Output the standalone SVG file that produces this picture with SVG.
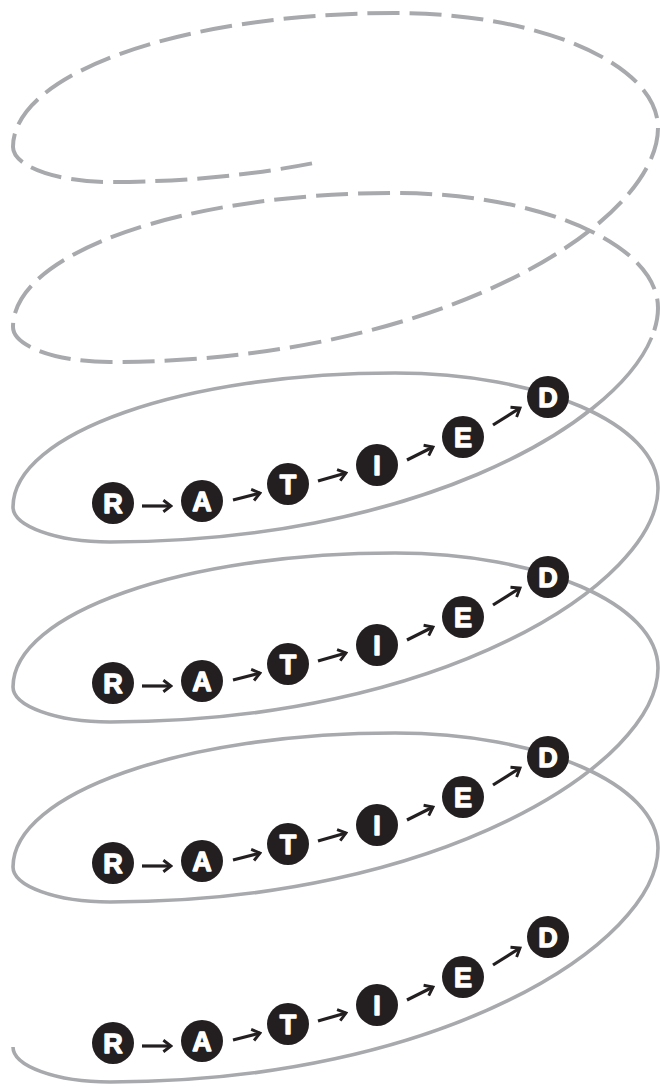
<svg xmlns="http://www.w3.org/2000/svg" width="660" height="1087" viewBox="0 0 660 1087">
<style>
.coil{fill:none;stroke:#a7a9ac;stroke-width:3.6;stroke-linecap:butt}
.dash{stroke-dasharray:32 10;stroke-width:4}
.nd circle{fill:#231f20}
.nd text{font-family:"Liberation Sans",Arial,sans-serif;font-weight:bold;font-size:27px;fill:#fff;stroke:#fff;stroke-width:1.3;stroke-linejoin:round;text-anchor:middle}
.arr{stroke:#231f20;stroke-width:3.2;fill:none;marker-end:url(#ah)}
</style>
<defs>
<marker id="ah" viewBox="0 0 10 10" refX="8.3" refY="5" markerWidth="4.5" markerHeight="4.5" orient="auto" markerUnits="strokeWidth">
<path d="M3,1 L8.3,5 L3,9" fill="none" stroke="#231f20" stroke-width="2" stroke-linecap="butt" stroke-linejoin="miter"/>
</marker>
<g id="row">
<line class="arr" x1="142" y1="506" x2="171" y2="506"/>
<line class="arr" x1="233" y1="500" x2="260" y2="493"/>
<line class="arr" x1="318" y1="481" x2="346" y2="473"/>
<line class="arr" x1="407" y1="460" x2="433" y2="447"/>
<line class="arr" x1="493" y1="425" x2="520" y2="408"/>
</g>
</defs>
<g id="connectors">
<path class="coil dash" d="M312,163.4 C251,175.1 183.3,182 110,182 C56,182 13,166 13,147 c0,-74 171,-134 382,-134 c145,0 263,51 263,115 c0,95 -218,234 -548,234 c-54,0 -97,-16 -97,-35 c0,-74 171,-134 382,-134 c145,0 263,51 263,115 C658,317.5 655.8,327.4 651.6,337.6"/>
<path class="coil" d="M651.6,337.6 C613.3,429.4 407,542 110,542 C56,542 13,526 13,507 c0,-74 171,-134 382,-134 c145,0 263,51 263,115 c0,95 -218,234 -548,234 c-54,0 -97,-16 -97,-35 c0,-74 171,-134 382,-134 c145,0 263,51 263,115 c0,95 -218,234 -548,234 c-54,0 -97,-16 -97,-35 c0,-74 171,-134 382,-134 c145,0 263,51 263,115 c0,95 -218,234 -548,234 c-54,0 -97,-16 -97,-35"/>
<use href="#row"/>
<use href="#row" y="180"/>
<use href="#row" y="360"/>
<use href="#row" y="540"/>
</g>
<g id="row1">
<g id="n1R" class="nd"><circle cx="113" cy="503" r="21"/><text x="113" y="513">R</text></g>
<g id="n1A" class="nd"><circle cx="202" cy="501" r="21"/><text x="202" y="511">A</text></g>
<g id="n1T" class="nd"><circle cx="288" cy="484" r="21"/><text x="288" y="494">T</text></g>
<g id="n1I" class="nd"><circle cx="377" cy="465" r="21"/><text x="377" y="475">I</text></g>
<g id="n1E" class="nd"><circle cx="463" cy="437" r="21"/><text x="463" y="447">E</text></g>
<g id="n1D" class="nd"><circle cx="548" cy="397" r="21"/><text x="548" y="407">D</text></g>
</g>
<g id="row2">
<g id="n2R" class="nd"><circle cx="113" cy="683" r="21"/><text x="113" y="693">R</text></g>
<g id="n2A" class="nd"><circle cx="202" cy="681" r="21"/><text x="202" y="691">A</text></g>
<g id="n2T" class="nd"><circle cx="288" cy="664" r="21"/><text x="288" y="674">T</text></g>
<g id="n2I" class="nd"><circle cx="377" cy="645" r="21"/><text x="377" y="655">I</text></g>
<g id="n2E" class="nd"><circle cx="463" cy="617" r="21"/><text x="463" y="627">E</text></g>
<g id="n2D" class="nd"><circle cx="548" cy="577" r="21"/><text x="548" y="587">D</text></g>
</g>
<g id="row3">
<g id="n3R" class="nd"><circle cx="113" cy="863" r="21"/><text x="113" y="873">R</text></g>
<g id="n3A" class="nd"><circle cx="202" cy="861" r="21"/><text x="202" y="871">A</text></g>
<g id="n3T" class="nd"><circle cx="288" cy="844" r="21"/><text x="288" y="854">T</text></g>
<g id="n3I" class="nd"><circle cx="377" cy="825" r="21"/><text x="377" y="835">I</text></g>
<g id="n3E" class="nd"><circle cx="463" cy="797" r="21"/><text x="463" y="807">E</text></g>
<g id="n3D" class="nd"><circle cx="548" cy="757" r="21"/><text x="548" y="767">D</text></g>
</g>
<g id="row4">
<g id="n4R" class="nd"><circle cx="113" cy="1043" r="21"/><text x="113" y="1053">R</text></g>
<g id="n4A" class="nd"><circle cx="202" cy="1041" r="21"/><text x="202" y="1051">A</text></g>
<g id="n4T" class="nd"><circle cx="288" cy="1024" r="21"/><text x="288" y="1034">T</text></g>
<g id="n4I" class="nd"><circle cx="377" cy="1005" r="21"/><text x="377" y="1015">I</text></g>
<g id="n4E" class="nd"><circle cx="463" cy="977" r="21"/><text x="463" y="987">E</text></g>
<g id="n4D" class="nd"><circle cx="548" cy="937" r="21"/><text x="548" y="947">D</text></g>
</g>
</svg>
